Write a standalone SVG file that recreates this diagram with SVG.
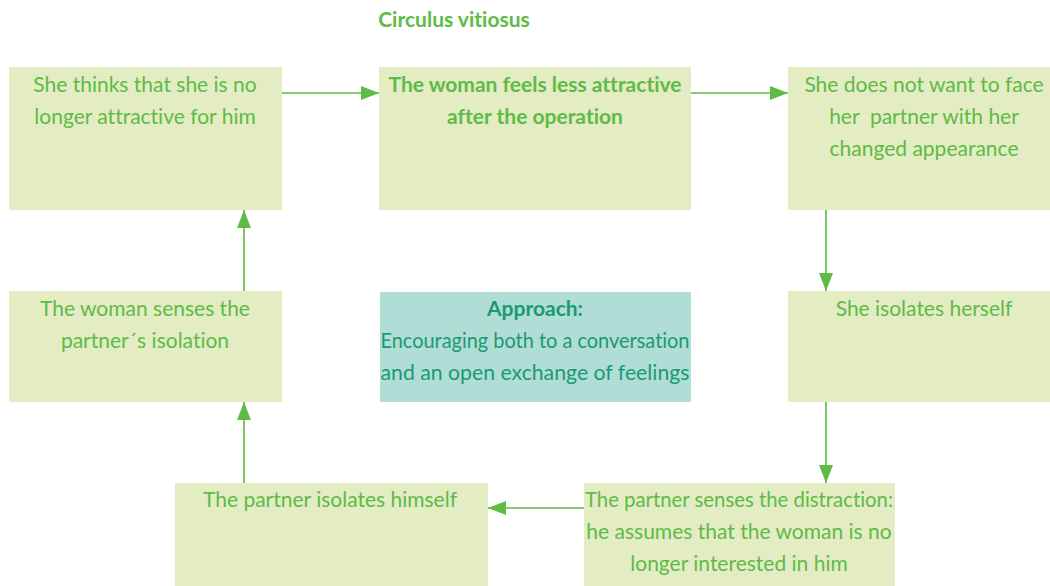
<svg xmlns="http://www.w3.org/2000/svg" width="1050" height="586" viewBox="0 0 1050 586">
<defs>
<marker id="ah" markerWidth="18" markerHeight="14" refX="18" refY="7" orient="auto" markerUnits="userSpaceOnUse">
<path d="M0,0 L18,7 L0,14 Z" fill="#5dbb46"/>
</marker>
<style>
.box{fill:#e3ecc3}
.app{fill:#b0ddd6}
.t{font-family:Lato,"Liberation Sans",sans-serif;font-size:21px;fill:#5dbb46;text-anchor:middle;font-variant-ligatures:none}
.b{font-weight:bold}
.a{fill:#1a9a72}
.c{stroke:#5dbb46;stroke-width:1.6;fill:none;marker-end:url(#ah)}
</style>
</defs>
<rect width="1050" height="586" fill="#ffffff"/>
<text x="454" y="27" class="t b">Circulus vitiosus</text>
<g id="connectors">
<line x1="282" y1="93" x2="379" y2="93" class="c"/>
<line x1="691" y1="93" x2="788" y2="93" class="c"/>
<line x1="826" y1="210" x2="826" y2="291" class="c"/>
<line x1="826" y1="402" x2="826" y2="483" class="c"/>
<line x1="584" y1="508" x2="488" y2="508" class="c"/>
<line x1="244" y1="483" x2="244" y2="402" class="c"/>
<line x1="244" y1="291" x2="244" y2="210" class="c"/>
</g>
<g id="n1">
<rect x="9" y="67" width="273" height="143" class="box"/>
<text class="t" x="145" y="92">She thinks that she is no</text>
<text class="t" x="145" y="124">longer attractive for him</text>
</g>
<g id="n2">
<rect x="379" y="67" width="312" height="143" class="box"/>
<text class="t b" x="535" y="92">The woman feels less attractive</text>
<text class="t b" x="535" y="124">after the operation</text>
</g>
<g id="n3">
<rect x="788" y="67" width="262" height="143" class="box"/>
<text class="t" x="924" y="92">She does not want to face</text>
<text class="t" x="924" y="124" xml:space="preserve">her  partner with her</text>
<text class="t" x="924" y="156">changed appearance</text>
</g>
<g id="n4">
<rect x="788" y="291" width="262" height="111" class="box"/>
<text class="t" x="924" y="316">She isolates herself</text>
</g>
<g id="n5">
<rect x="584" y="483" width="311" height="103" class="box"/>
<text class="t" x="739" y="507" textLength="308" lengthAdjust="spacingAndGlyphs">The partner senses the distraction:</text>
<text class="t" x="739" y="539">he assumes that the woman is no</text>
<text class="t" x="739" y="571">longer interested in him</text>
</g>
<g id="n6">
<rect x="175" y="483" width="313" height="103" class="box"/>
<text class="t" x="330" y="507">The partner isolates himself</text>
</g>
<g id="n7">
<rect x="9" y="291" width="273" height="111" class="box"/>
<text class="t" x="145" y="316">The woman senses the</text>
<text class="t" x="145" y="348">partner´s isolation</text>
</g>
<g id="n8">
<rect x="380" y="292" width="311" height="110" class="app"/>
<text class="t b a" x="535" y="316">Approach:</text>
<text class="t a" x="535" y="348" textLength="309" lengthAdjust="spacingAndGlyphs">Encouraging both to a conversation</text>
<text class="t a" x="535" y="380" textLength="309" lengthAdjust="spacingAndGlyphs">and an open exchange of feelings</text>
</g>
</svg>
